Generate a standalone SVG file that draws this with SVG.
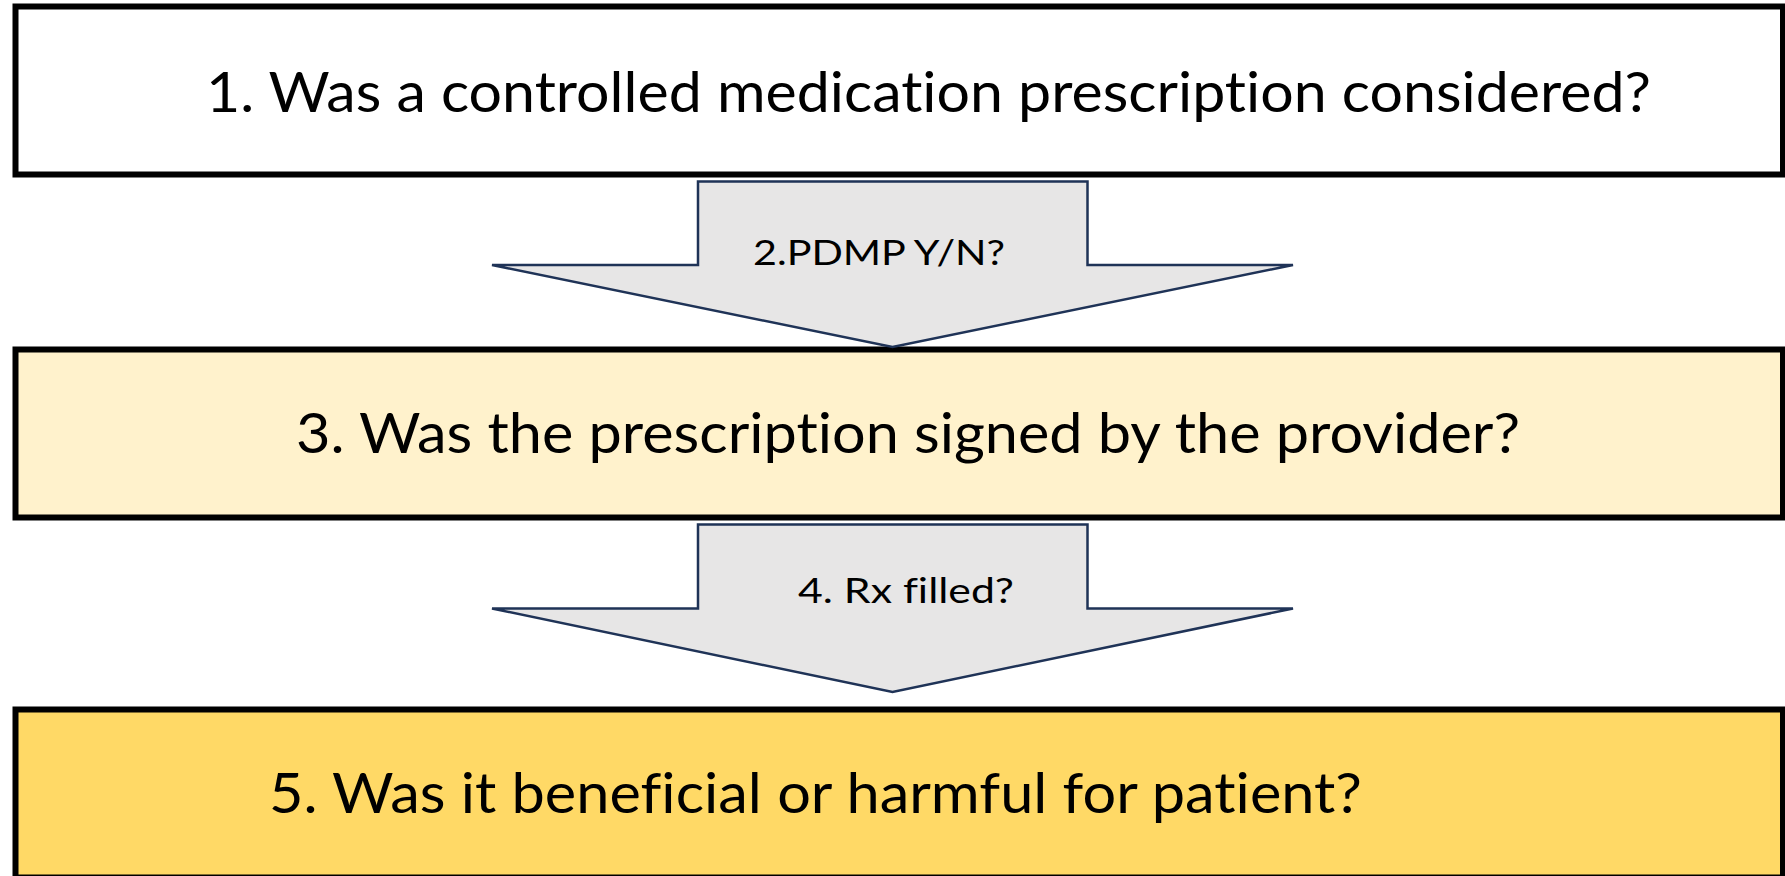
<svg xmlns="http://www.w3.org/2000/svg" width="1785" height="876" viewBox="0 0 1785 876">
  <style>
    text { font-variant-ligatures: none; font-feature-settings: "liga" 0, "dlig" 0; }
    .box { stroke: #000000; stroke-width: 6; }
    .q1 { fill: #FFFFFF; }
    .q3 { fill: #FFF2CC; }
    .q5 { fill: #FFD966; }
    .big { font-family: Lato, "Liberation Sans", sans-serif; font-size: 57px; fill: #000000; }
    .flow { fill: #E7E6E6; stroke: #1F3357; stroke-width: 2.5; stroke-linejoin: miter; }
    .small { font-family: Lato, "Liberation Sans", sans-serif; font-size: 35px; fill: #000000; }
  </style>

  <rect width="1785" height="876" fill="#FFFFFF"/>

  <!-- Step boxes -->
  <g id="step1">
    <rect class="box q1" x="15.5" y="6.5" width="1767.5" height="168"/>
    <text class="big" x="206" y="112" textLength="1445" lengthAdjust="spacingAndGlyphs">1. Was a controlled medication prescription considered?</text>
  </g>

  <g id="step3">
    <rect class="box q3" x="15.5" y="349.5" width="1767.5" height="168"/>
    <text class="big" x="296" y="453" textLength="1224" lengthAdjust="spacingAndGlyphs">3. Was the prescription signed by the provider?</text>
  </g>

  <g id="step5">
    <rect class="box q5" x="15.5" y="709.5" width="1767.5" height="168"/>
    <text class="big" x="269" y="813" textLength="1093" lengthAdjust="spacingAndGlyphs">5. Was it beneficial or harmful for patient?</text>
  </g>

  <!-- Block arrows between steps, carrying the intermediate steps -->
  <g id="connectors">
    <g id="step2">
      <path class="flow" d="M698,181.5 L1087.5,181.5 L1087.5,265 L1293,265 L892.5,347 L492,265 L698,265 Z"/>
      <text class="small" x="753" y="265" textLength="252" lengthAdjust="spacingAndGlyphs">2.PDMP Y/N?</text>
    </g>
    <g id="step4">
      <path class="flow" d="M698,524.5 L1087.5,524.5 L1087.5,608.5 L1293,608.5 L892.5,692 L492,608.5 L698,608.5 Z"/>
      <text class="small" x="798" y="603" textLength="216" lengthAdjust="spacingAndGlyphs">4. Rx filled?</text>
    </g>
  </g>
</svg>
